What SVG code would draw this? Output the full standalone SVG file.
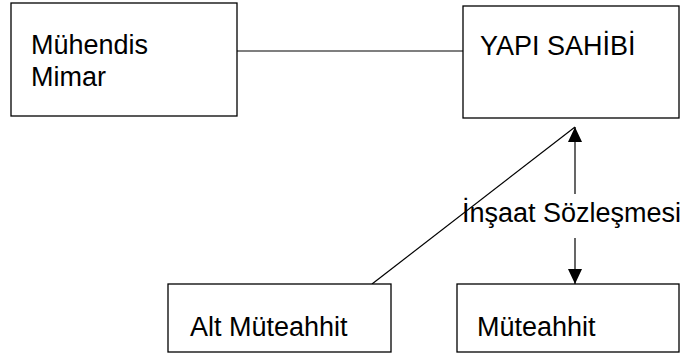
<svg xmlns="http://www.w3.org/2000/svg" width="681" height="356" viewBox="0 0 681 356">
  <style>
    .box { fill: #fff; stroke: #000; stroke-width: 1.3; }
    .lbl { font-family: "Liberation Sans", Arial, sans-serif; font-size: 27px; fill: #000; }
    .conn { stroke: #000; stroke-width: 1.2; fill: none; }
  </style>
  <defs>
    <marker id="arrow" viewBox="0 0 15 14" refX="15" refY="7" markerWidth="15" markerHeight="14" markerUnits="userSpaceOnUse" orient="auto">
      <path d="M0,0 L15,7 L0,14 Z" fill="#000"/>
    </marker>
  </defs>

  <g id="connectors">
    <line class="conn" x1="237" y1="51" x2="463" y2="51"/>
    <line class="conn" x1="372" y1="284" x2="575" y2="127"/>
    <line class="conn" x1="575" y1="194" x2="575" y2="127" marker-end="url(#arrow)"/>
    <line class="conn" x1="575" y1="238" x2="575" y2="284" marker-end="url(#arrow)"/>
    <text class="lbl" x="462" y="222">İnşaat Sözleşmesi</text>
  </g>

  <g id="muhendis-mimar">
    <rect class="box" x="11" y="3" width="226" height="113"/>
    <text class="lbl" x="31" y="54">Mühendis</text>
    <text class="lbl" x="31" y="86">Mimar</text>
  </g>

  <g id="yapi-sahibi">
    <rect class="box" x="463" y="6" width="216" height="112"/>
    <text class="lbl" x="480" y="55">YAPI SAHİBİ</text>
  </g>

  <g id="alt-muteahhit">
    <rect class="box" x="168" y="284" width="223" height="68"/>
    <text class="lbl" x="190" y="336">Alt Müteahhit</text>
  </g>

  <g id="muteahhit">
    <rect class="box" x="457" y="284" width="222" height="68"/>
    <text class="lbl" x="477" y="336">Müteahhit</text>
  </g>
</svg>
